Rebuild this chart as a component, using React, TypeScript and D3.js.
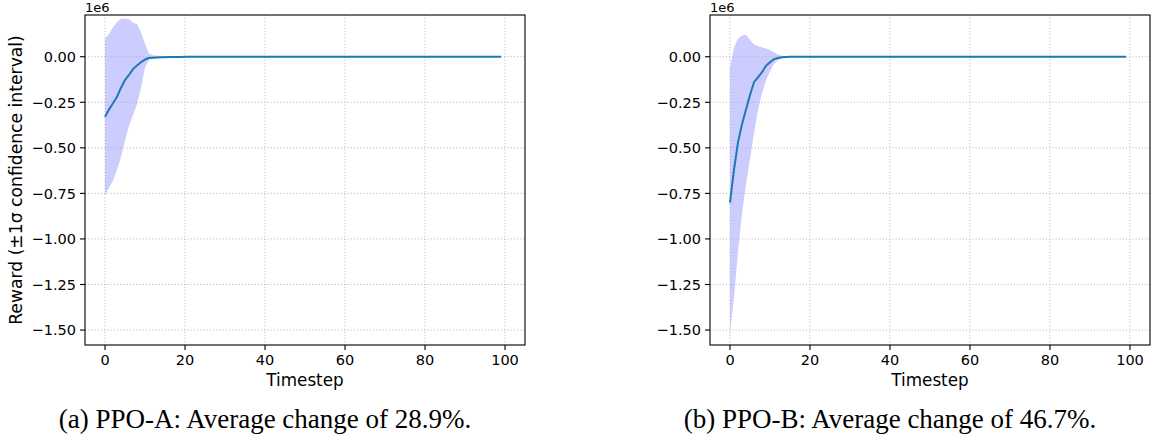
import React from 'react';
import * as d3 from 'd3';

// sampled timesteps (flat at zero after step 20 until the last step)
const timesteps = [0, 1, 2, 3, 4, 5, 6, 7, 8, 9, 10, 11, 12, 13, 14, 15, 16, 17, 18, 19, 20, 99];

// PPO-A (values in units of 1e6)
const meanA = [-0.33, -0.29, -0.255, -0.22, -0.17, -0.128, -0.1, -0.068, -0.048, -0.03, -0.015, -0.007, -0.005, -0.004, -0.003, -0.003, -0.002, -0.002, -0.001, -0.001, 0, 0];
const upperA = [0.1, 0.125, 0.16, 0.19, 0.207, 0.208, 0.205, 0.186, 0.18, 0.135, 0.07, 0.018, 0.008, 0.006, 0.005, 0.004, 0.003, 0.002, 0.001, 0.001, 0, 0];
const lowerA = [-0.76, -0.72, -0.68, -0.62, -0.55, -0.46, -0.38, -0.32, -0.26, -0.17, -0.06, -0.015, -0.008, -0.006, -0.005, -0.004, -0.003, -0.002, -0.001, -0.001, 0, 0];

// PPO-B
const meanB = [-0.8, -0.62, -0.47, -0.37, -0.29, -0.21, -0.14, -0.113, -0.085, -0.05, -0.03, -0.013, -0.007, -0.003, -0.001, 0, 0, 0, 0, 0, 0, 0];
const upperB = [-0.06, 0.05, 0.1, 0.115, 0.12, 0.092, 0.068, 0.058, 0.052, 0.045, 0.035, 0.025, 0.012, 0.006, 0.002, 0, 0, 0, 0, 0, 0, 0];
const lowerB = [-1.51, -1.32, -1.07, -0.86, -0.7, -0.56, -0.42, -0.29, -0.2, -0.13, -0.08, -0.04, -0.018, -0.008, -0.003, -0.001, 0, 0, 0, 0, 0, 0];

const xTicks = [0, 20, 40, 60, 80, 100];
const yTicks = [0, -0.25, -0.5, -0.75, -1.0, -1.25, -1.5];
const captions = ['(a) PPO-A: Average change of 28.9%.', '(b) PPO-B: Average change of 46.7%.'];
const yLabel = 'Reward (\u00b11\u03c3 confidence interval)';
const xLabel = 'Timestep';

const width = 1152;
const height = 438;
const plotTop = 15;
const plotBottom = 345;
const plotWidth = 440;
const font = '"DejaVu Sans", sans-serif';

type PanelProps = {
  left: number;
  mean: number[];
  upper: number[];
  lower: number[];
  caption: string;
  showYLabel: boolean;
};

const Panel = ({ left, mean, upper, lower, caption, showYLabel }: PanelProps) => {
  const x = d3.scaleLinear().domain([-5, 105]).range([left, left + plotWidth]);
  const y = d3.scaleLinear().domain([-1.582, 0.229]).range([plotBottom, plotTop]);
  const fmt = d3.format('.2f');

  const area = d3.area<number>()
    .x((d, i) => x(timesteps[i]))
    .y0((d, i) => y(lower[i]))
    .y1((d, i) => y(upper[i]));
  const line = d3.line<number>()
    .x((d, i) => x(timesteps[i]))
    .y((d) => y(d));

  return (
    <g>
      <path d={area(mean) ?? ''} fill="#ccccff" stroke="none" />
      {/* grid */}
      {xTicks.map((t) => (
        <line key={'gx' + t} x1={x(t)} x2={x(t)} y1={plotTop} y2={plotBottom}
          stroke="#b0b0b0" strokeWidth={0.8} strokeDasharray="1.2,2" />
      ))}
      {yTicks.map((t) => (
        <line key={'gy' + t} x1={left} x2={left + plotWidth} y1={y(t)} y2={y(t)}
          stroke="#b0b0b0" strokeWidth={0.8} strokeDasharray="1.2,2" />
      ))}
      <path d={line(mean) ?? ''} fill="none" stroke="#1f77b4" strokeWidth={2} strokeLinejoin="round" />
      <rect x={left} y={plotTop} width={plotWidth} height={plotBottom - plotTop}
        fill="none" stroke="#000" strokeWidth={1.1} />
      {/* x ticks */}
      {xTicks.map((t) => (
        <g key={'tx' + t}>
          <line x1={x(t)} x2={x(t)} y1={plotBottom} y2={plotBottom + 5} stroke="#000" strokeWidth={1.1} />
          <text x={x(t)} y={365} textAnchor="middle" fontSize={14.5} fontFamily={font}>{t}</text>
        </g>
      ))}
      {/* y ticks */}
      {yTicks.map((t) => (
        <g key={'ty' + t}>
          <line x1={left - 5} x2={left} y1={y(t)} y2={y(t)} stroke="#000" strokeWidth={1.1} />
          <text x={left - 9} y={y(t)} dy="0.36em" textAnchor="end" fontSize={14.5} fontFamily={font}>{fmt(t)}</text>
        </g>
      ))}
      <text x={left} y={12} fontSize={13} fontFamily={font}>1e6</text>
      <text x={left + plotWidth / 2} y={386} textAnchor="middle" fontSize={16.8} fontFamily={font}>{xLabel}</text>
      {showYLabel && (
        <text transform={`translate(21.5,${(plotTop + plotBottom) / 2}) rotate(-90)`} textAnchor="middle"
          fontSize={17.2} fontFamily={font}>{yLabel}</text>
      )}
      <text x={left + 180} y={428} textAnchor="middle" fontSize={27}
        fontFamily='"Liberation Serif", "Times New Roman", serif'>{caption}</text>
    </g>
  );
};

export default function App() {
  return (
    <svg width={width} height={height} style={{ position: 'absolute', left: 0, top: 0, background: '#fff' }}>
      <Panel left={85} mean={meanA} upper={upperA} lower={lowerA} caption={captions[0]} showYLabel />
      <Panel left={710} mean={meanB} upper={upperB} lower={lowerB} caption={captions[1]} showYLabel={false} />
    </svg>
  );
}
